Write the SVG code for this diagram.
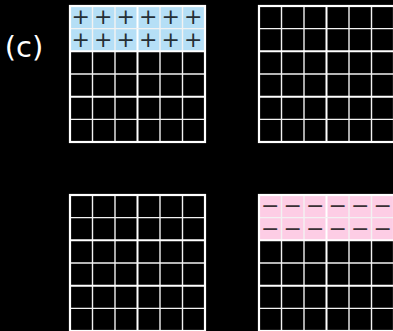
<svg xmlns="http://www.w3.org/2000/svg" xmlns:xlink="http://www.w3.org/1999/xlink" width="393" height="331" viewBox="0 0 393 331">
<style>
.bg{fill:#000}
.outer{fill:none;stroke:#fff;stroke-width:2.2}
.thin{stroke:#f2f2f2;stroke-width:1.4}
.thick{stroke:#fff;stroke-width:2}
.pos{fill:#b5dff6}
.neg{fill:#fdcde5}
.plus{font-family:"DejaVu Sans",sans-serif;font-size:22px;fill:#263036;text-anchor:middle}
.minus{font-family:"DejaVu Sans",sans-serif;font-size:22px;fill:#3a3035;text-anchor:middle}
.label{font-family:"DejaVu Sans",sans-serif;font-size:29px;fill:#fff}
</style>
<defs>
<g id="grid">
<line class="thin" x1="22.5" y1="0" x2="22.5" y2="136"/>
<line class="thin" x1="45" y1="0" x2="45" y2="136"/>
<line class="thick" x1="67.5" y1="0" x2="67.5" y2="136"/>
<line class="thin" x1="90" y1="0" x2="90" y2="136"/>
<line class="thin" x1="112.5" y1="0" x2="112.5" y2="136"/>
<line class="thin" x1="0" y1="22.67" x2="135" y2="22.67"/>
<line class="thick" x1="0" y1="45.33" x2="135" y2="45.33"/>
<line class="thin" x1="0" y1="68" x2="135" y2="68"/>
<line class="thick" x1="0" y1="90.67" x2="135" y2="90.67"/>
<line class="thin" x1="0" y1="113.33" x2="135" y2="113.33"/>
<rect class="outer" x="0" y="0" width="135" height="136"/>
</g>
</defs>
<rect class="bg" x="0" y="0" width="393" height="331"/>
<g id="label-c">
<text class="label" x="4.7" y="57">(c)</text>
</g>
<g id="grid-top-left">
<rect class="pos" x="70" y="6" width="135" height="45.33"/>
<g class="plus">
<text x="80.8" y="24.3">+</text><text x="103.3" y="24.3">+</text><text x="125.8" y="24.3">+</text><text x="148.3" y="24.3">+</text><text x="170.8" y="24.3">+</text><text x="193.3" y="24.3">+</text>
<text x="80.8" y="47">+</text><text x="103.3" y="47">+</text><text x="125.8" y="47">+</text><text x="148.3" y="47">+</text><text x="170.8" y="47">+</text><text x="193.3" y="47">+</text>
</g>
<use xlink:href="#grid" href="#grid" transform="translate(70 6)"/>
</g>
<g id="grid-top-right">
<use xlink:href="#grid" href="#grid" transform="translate(259 6)"/>
</g>
<g id="grid-bottom-left">
<use xlink:href="#grid" href="#grid" transform="translate(70 195)"/>
</g>
<g id="grid-bottom-right">
<rect class="neg" x="259" y="195" width="135" height="45.33"/>
<g class="minus">
<text x="270.2" y="213.3">−</text><text x="292.7" y="213.3">−</text><text x="315.2" y="213.3">−</text><text x="337.7" y="213.3">−</text><text x="360.2" y="213.3">−</text><text x="382.7" y="213.3">−</text>
<text x="270.2" y="236">−</text><text x="292.7" y="236">−</text><text x="315.2" y="236">−</text><text x="337.7" y="236">−</text><text x="360.2" y="236">−</text><text x="382.7" y="236">−</text>
</g>
<use xlink:href="#grid" href="#grid" transform="translate(259 195)"/>
</g>
<g id="connectors"></g>
</svg>
